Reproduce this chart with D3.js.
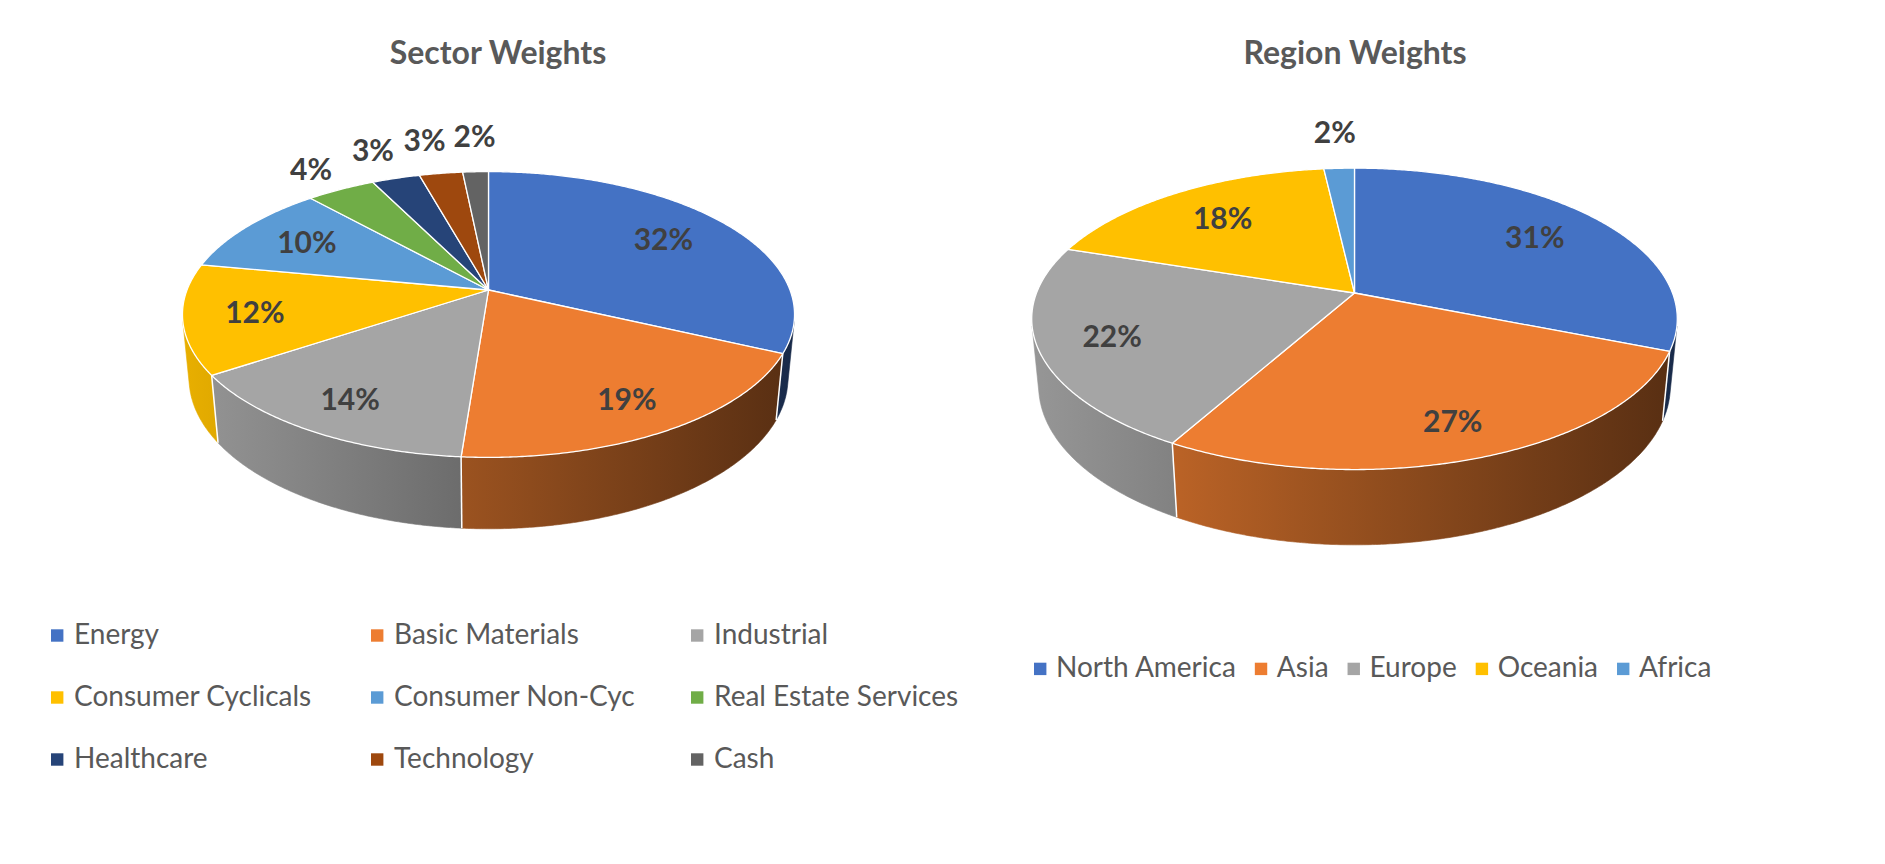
<!DOCTYPE html>
<html><head><meta charset="utf-8">
<script src="https://cdn.jsdelivr.net/npm/d3@7"></script>
<style>
body{margin:0;background:#fff;}
svg{display:block;}
text{font-family:Lato,"Open Sans",sans-serif;}
</style>
</head><body>
<svg id="chart" width="1885" height="864"></svg>
<script>
// ---------- data ----------
const sectorTitle = "Sector Weights";
const sectorNames = ["Energy","Basic Materials","Industrial","Consumer Cyclicals","Consumer Non-Cyc","Real Estate Services","Healthcare","Technology","Cash"];
const sectorValues = [32.0,19.2,14.4,12.4,10.4,4.3,3.0,2.7,1.6];
const sectorColors = ["#4472C4","#ED7D31","#A5A5A5","#FFC000","#5B9BD5","#70AD47","#264478","#9E480E","#636363"];

const regionTitle = "Region Weights";
const regionNames = ["North America","Asia","Europe","Oceania","Africa"];
const regionValues = [31.1,27.0,22.0,18.1,1.8];
const regionColors = ["#4472C4","#ED7D31","#A5A5A5","#FFC000","#5B9BD5"];

// ---------- 3D projection settings ----------
const SIN_T = 0.46, COS_T = 0.888;   // tilt
const DIST = 5.18;                    // camera distance (in radii)
const DEPTH = 0.24;                   // pie thickness (in radii)

const svg = d3.select("#chart");
svg.append("rect").attr("width",1885).attr("height",864).attr("fill","#fff");
const defs = svg.append("defs");

function shade(col, f){
  const c = d3.rgb(col);
  return d3.rgb(c.r*f, c.g*f, c.b*f).formatHex();
}

function drawPie(opts){
  const {id, values, colors, cx, cy, kR, title, titleX} = opts;
  const g = svg.append("g");
  const total = d3.sum(values);
  const arcs = d3.pie().sort(null).value(d=>d)(values);

  const proj = (phi, r, h) => {
    const X = r*Math.sin(phi), Y = r*Math.cos(phi);
    const yup = Y*SIN_T + h*COS_T;
    const z = -Y*COS_T + h*SIN_T;
    const p = DIST/(DIST - z);
    return [cx + kR*X*p, cy - kR*yup*p];
  };
  const samples = (a0,a1,r,h) => {
    const n = Math.max(2, Math.ceil((a1-a0)/0.008));
    return d3.range(n+1).map(i => proj(a0+(a1-a0)*i/n, r, h));
  };
  const line = d3.line();

  // gradients for side walls
  colors.forEach((col,i)=>{
    const gr = defs.append("linearGradient")
      .attr("id", id+"g"+i).attr("gradientUnits","userSpaceOnUse")
      .attr("x1", cx - kR*1.05).attr("x2", cx + kR*1.05)
      .attr("y1", 0).attr("y2", 0);
    [[0,0.92],[0.45,0.66],[1,0.36]].forEach(([o,f])=>{
      gr.append("stop").attr("offset",o).attr("stop-color",shade(col,f));
    });
  });

  // visible wall range
  const vAng = Math.acos(-1/(DIST*COS_T));
  const v0 = vAng, v1 = 2*Math.PI - vAng;

  // walls
  arcs.forEach((a,i)=>{
    const lo = Math.max(a.startAngle, v0), hi = Math.min(a.endAngle, v1);
    if (lo < hi){
      const pts = samples(lo,hi,1,0).concat(samples(lo,hi,1,-DEPTH).reverse());
      g.append("path").attr("d", line(pts)+"Z")
        .attr("fill","url(#"+id+"g"+i+")")
        .attr("stroke","url(#"+id+"g"+i+")").attr("stroke-width",0.6);
    }
  });
  // wall boundary lines
  arcs.forEach(a=>{
    const s = a.startAngle;
    if (s > v0 && s < v1){
      g.append("path").attr("d", line([proj(s,1,0), proj(s,1,-DEPTH)]))
        .attr("stroke","#fff").attr("stroke-width",1.5).attr("fill","none");
    }
  });
  // top faces
  arcs.forEach((a,i)=>{
    const pts = [proj(0,0,0)].concat(samples(a.startAngle,a.endAngle,1,0));
    g.append("path").attr("d", line(pts)+"Z")
      .attr("fill", colors[i]).attr("stroke","#fff").attr("stroke-width",1.3)
      .attr("stroke-linejoin","round");
  });

  // labels
  const apex = proj(0,0,0);
  const outside = [];
  arcs.forEach((a,i)=>{
    const pct = values[i]/total*100;
    const mid = (a.startAngle + a.endAngle)/2;
    let x, y;
    if (pct >= 5){
      const r = 0.76 - 0.05*Math.cos(mid);
      [x, y] = proj(mid, r, 0);
    } else {
      const e = proj(mid, 1, 0);
      const dx = e[0]-apex[0], dy = e[1]-apex[1];
      const L = Math.hypot(dx,dy), ux = dx/L, uy = dy/L;
      x = e[0] + ux*(14+22);
      y = e[1] + uy*(14+22);
    }
    const lab = {x, y, txt: Math.round(pct+1e-9)+"%"};
    if (pct < 5) outside.push(lab);
    g.append("text").datum(lab).attr("text-anchor","middle")
      .attr("font-size",30).attr("font-weight",700).attr("fill","#404040")
      .text(lab.txt);
  });
  // simple spreading of crowded outside labels
  for (let it=0; it<20; it++){
    for (let j=0; j<outside.length-1; j++){
      const A = outside[j], B = outside[j+1];
      const gap = 50 - (B.x - A.x);
      if (gap > 0 && Math.abs(B.y - A.y) < 30){
        A.x -= gap/2; B.x += gap/2;
      }
    }
  }
  g.selectAll("text").attr("x", d=>d.x).attr("y", d=>d.y+10.8);

  // title
  svg.append("text").attr("x", titleX).attr("y", 63.5)
    .attr("text-anchor","middle").attr("font-size",32).attr("font-weight",700)
    .attr("fill","#595959").text(title);
}

drawPie({id:"s", values:sectorValues, colors:sectorColors, cx:488.5, cy:290, kR:301.5, title:sectorTitle, titleX:498});
drawPie({id:"r", values:regionValues, colors:regionColors, cx:1354.5, cy:293, kR:318, title:regionTitle, titleX:1355});

// ---------- sector legend (3 columns) ----------
const sLeg = svg.append("g");
sectorNames.forEach((n,i)=>{
  const col = i%3, row = Math.floor(i/3);
  const x = 51 + col*320, base = 643.5 + row*62;
  sLeg.append("rect").attr("x",x).attr("y",base-14.2).attr("width",12.4).attr("height",12.4).attr("fill",sectorColors[i]);
  sLeg.append("text").attr("x",x+23).attr("y",base).attr("font-size",28).attr("fill","#595959").text(n);
});

// ---------- region legend (one row, centered) ----------
const rLeg = svg.append("g");
const items = regionNames.map((n,i)=>{
  const t = rLeg.append("text").attr("y",677.3).attr("font-size",28).attr("fill","#595959").text(n);
  return {t, w: t.node().getComputedTextLength(), i};
});
const gapSq = 22, gapItem = 19;
const totalW = d3.sum(items, d=>gapSq + d.w) + gapItem*(items.length-1);
let xx = 1034;
items.forEach(d=>{
  rLeg.append("rect").attr("x",xx).attr("y",677.3-14.6).attr("width",12.4).attr("height",12.4).attr("fill",regionColors[d.i]);
  d.t.attr("x", xx+gapSq);
  xx += gapSq + d.w + gapItem;
});
</script>
</body></html>
